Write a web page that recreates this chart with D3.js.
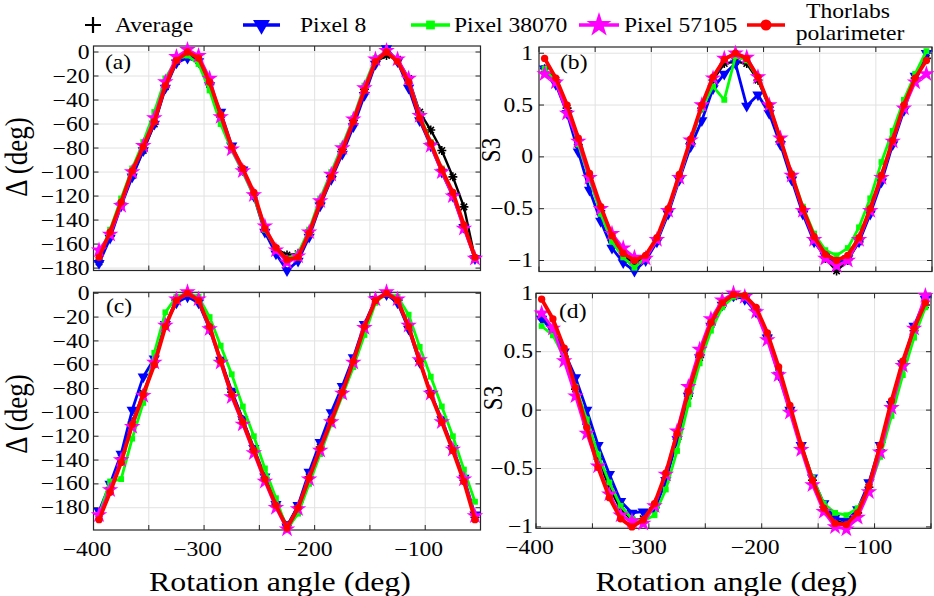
<!DOCTYPE html>
<html><head><meta charset="utf-8">
<script src="https://cdn.jsdelivr.net/npm/d3@7"></script>
<style>
body{margin:0;background:#fff;}
svg{display:block;}
</style>
</head><body>
<svg id="chart" width="934" height="596"></svg>
<script>
// ---------------- data ----------------
const angles = [-395,-385,-375,-365,-355,-345,-335,-325,-315,-305,-295,-285,-275,-265,-255,-245,-235,-225,-215,-205,-195,-185,-175,-165,-155,-145,-135,-125,-115,-105,-95,-85,-75,-65,-55];

const seriesNames = ["Average","Pixel 8","Pixel 38070","Pixel 57105","Thorlabs polarimeter"];

// (a) Delta, upper row
const aAverage = [-175,-153,-127,-103,-82,-60,-29,-8,-2,-7,-27,-54,-80,-99,-119,-148,-164,-169,-168,-150,-125,-103,-81,-57,-31,-8,-3,-6,-22,-50,-65,-82,-104,-129,-172];
const aPixel8 = [-176,-155,-128,-104,-82,-60,-30,-9,-5,-8,-28,-50,-78,-98,-120,-150,-168,-182,-174,-154,-128,-106,-85,-62,-36,-10,3,-8,-30,-57,-78,-100,-120,-146,-172];
const aPixel38070 = [-170,-148,-122,-97,-75,-50,-22,-6,-3,-10,-32,-60,-82,-100,-120,-148,-164,-172,-168,-148,-122,-100,-78,-55,-28,-5,0,-7,-24,-52,-75,-97,-118,-145,-172];
const aPixel57105 = [-165,-152,-128,-100,-78,-55,-25,-4,2,-3,-22,-54,-81,-99,-119,-145,-165,-175,-170,-150,-124,-102,-80,-56,-30,-6,1,-6,-22,-53,-78,-100,-120,-147,-172];
const aThorlabs = [-171,-150,-125,-99,-79,-58,-28,-7,0,-5,-25,-52,-79,-97,-117,-147,-163,-173,-171,-151,-126,-104,-82,-58,-32,-8,0,-8,-25,-55,-76,-98,-117,-144,-171];

// (b) S3, upper row
const bAverage = [0.85,0.74,0.47,0.12,-0.2,-0.52,-0.8,-0.96,-1.02,-0.97,-0.8,-0.52,-0.19,0.14,0.47,0.74,0.9,0.92,0.9,0.74,0.48,0.15,-0.2,-0.53,-0.8,-0.98,-1.1,-1.0,-0.82,-0.53,-0.22,0.14,0.48,0.76,0.95];
const bPixel8 = [0.85,0.7,0.42,0.05,-0.32,-0.62,-0.88,-1.02,-1.1,-1.0,-0.82,-0.55,-0.22,0.1,0.35,0.66,0.8,0.9,0.49,0.6,0.42,0.12,-0.22,-0.55,-0.82,-0.96,-1.03,-0.98,-0.82,-0.55,-0.24,0.12,0.45,0.78,1.0];
const bPixel38070 = [0.85,0.72,0.48,0.12,-0.22,-0.55,-0.82,-0.97,-1.07,-0.97,-0.8,-0.52,-0.2,0.15,0.47,0.68,0.55,0.97,0.93,0.76,0.5,0.16,-0.16,-0.48,-0.74,-0.9,-0.95,-0.88,-0.68,-0.4,-0.05,0.25,0.55,0.8,1.02];
const bPixel57105 = [0.8,0.72,0.42,0.15,-0.2,-0.5,-0.74,-0.88,-0.97,-0.98,-0.8,-0.52,-0.2,0.16,0.5,0.76,0.95,1.0,0.96,0.77,0.5,0.18,-0.18,-0.52,-0.8,-0.98,-1.05,-1.0,-0.8,-0.52,-0.2,0.15,0.47,0.72,0.8];
const bThorlabs = [0.95,0.76,0.5,0.18,-0.16,-0.48,-0.76,-0.93,-1.0,-0.95,-0.78,-0.5,-0.17,0.17,0.5,0.77,0.94,1.0,0.95,0.77,0.5,0.17,-0.17,-0.5,-0.77,-0.94,-1.0,-0.95,-0.78,-0.5,-0.18,0.16,0.5,0.76,0.93];

// (c) Delta, lower row
const cAverage = [-185,-163,-138,-108,-84,-58,-27,-5,-1,-6,-28,-56,-83,-106,-131,-155,-177,-195,-179,-154,-129,-106,-82,-57,-28,-5,-1,-6,-28,-57,-84,-107,-131,-157,-188];
const cPixel8 = [-183,-160,-135,-98,-70,-55,-26,-8,-3,-8,-30,-56,-82,-106,-130,-154,-177,-196,-178,-150,-125,-100,-78,-54,-26,-5,-1,-8,-30,-58,-84,-106,-130,-155,-186];
const cPixel38070 = [-186,-158,-156,-122,-92,-50,-16,-3,0,-3,-20,-44,-68,-95,-120,-147,-172,-198,-185,-160,-135,-110,-86,-62,-35,-8,0,-3,-18,-45,-70,-95,-120,-148,-175];
const cPixel57105 = [-186,-165,-140,-112,-86,-58,-27,-5,1,-5,-30,-58,-87,-110,-134,-158,-180,-198,-181,-156,-132,-108,-84,-58,-29,-5,1,-5,-27,-56,-84,-108,-131,-156,-187];
const cThorlabs = [-190,-167,-142,-110,-85,-60,-28,-6,0,-6,-28,-57,-85,-108,-132,-156,-178,-197,-180,-155,-130,-107,-83,-57,-28,-6,0,-6,-28,-57,-85,-108,-132,-158,-190];

// (d) S3, lower row
const dAverage = [0.8,0.69,0.46,0.18,-0.12,-0.42,-0.66,-0.85,-0.94,-0.93,-0.84,-0.6,-0.25,0.12,0.45,0.73,0.9,0.97,0.96,0.86,0.64,0.32,0.0,-0.32,-0.6,-0.83,-0.95,-0.97,-0.88,-0.66,-0.34,0.02,0.38,0.68,0.9];
const dPixel8 = [0.78,0.68,0.5,0.28,0.0,-0.3,-0.55,-0.78,-0.88,-0.87,-0.86,-0.6,-0.25,0.12,0.45,0.72,0.9,0.98,0.95,0.84,0.62,0.3,0.0,-0.3,-0.58,-0.8,-0.92,-0.95,-0.85,-0.62,-0.3,0.05,0.4,0.72,0.95];
const dPixel38070 = [0.72,0.64,0.45,0.2,-0.08,-0.38,-0.62,-0.82,-0.93,-0.95,-0.9,-0.68,-0.35,0.05,0.4,0.68,0.88,0.97,0.98,0.86,0.64,0.34,0.02,-0.3,-0.58,-0.8,-0.88,-0.9,-0.84,-0.68,-0.4,-0.05,0.3,0.62,0.88];
const dPixel57105 = [0.83,0.7,0.42,0.12,-0.2,-0.48,-0.72,-0.9,-0.95,-0.97,-0.82,-0.55,-0.18,0.2,0.52,0.78,0.94,1.0,0.97,0.84,0.6,0.3,-0.02,-0.34,-0.64,-0.87,-1.0,-1.02,-0.92,-0.7,-0.36,0.02,0.38,0.7,0.98];
const dThorlabs = [0.95,0.78,0.53,0.19,-0.15,-0.49,-0.75,-0.93,-1.0,-0.94,-0.8,-0.54,-0.2,0.16,0.47,0.75,0.92,0.99,0.98,0.88,0.66,0.37,0.04,-0.3,-0.6,-0.84,-0.97,-0.98,-0.88,-0.65,-0.3,0.08,0.42,0.7,0.92];

// ticks
const xGridTicks = [-400,-350,-300,-250,-200,-150,-100,-50];
const xTickLabels = [-400,-300,-200,-100];
const deltaTicks = [0,-20,-40,-60,-80,-100,-120,-140,-160,-180];
const s3Ticks = [1,0.5,0,-0.5,-1];
const panelLetters = ["(a)","(b)","(c)","(d)"];

// ---------------- drawing ----------------
const FONT = "Liberation Serif";
const svg = d3.select("#chart");
const SX = 1.18; // horizontal stretch of the original figure's text
const colors = ["#000000","#0000ff","#00ff00","#ff00ff","#ff0000"];
const widths = [2.4,2.8,2.8,2.8,3.8];

function stext(g, x, y, str, size, anchor){
  return g.append("text")
    .attr("transform", `translate(${x},${y}) scale(${SX},1)`)
    .attr("font-family", FONT)
    .attr("font-size", size)
    .attr("fill", "#000")
    .attr("text-anchor", anchor || "start")
    .text(str);
}
function fmt(v){ return String(v).replace("-", "\u2212"); }

function drawMarker(g, k, x, y, big){
  const s = big ? 1.5 : 1;
  if(k===0){
    if(big){
      g.append("path").attr("d", "M-8,0H8M0,-8V8")
        .attr("transform", `translate(${x},${y})`).attr("stroke", colors[0]).attr("stroke-width", 2.2);
    } else {
      g.append("path").attr("d", "M-4.5,0H4.5M0,-4.5V4.5M-3.2,-3.2L3.2,3.2M-3.2,3.2L3.2,-3.2")
        .attr("transform", `translate(${x},${y})`).attr("stroke", colors[0]).attr("stroke-width", 1.6);
    }
  } else if(k===1){
    g.append("path").attr("d", d3.symbol(d3.symbolTriangle, 55*s*s)())
      .attr("transform", `translate(${x},${y}) rotate(180)`).attr("fill", colors[1]);
  } else if(k===2){
    g.append("path").attr("d", d3.symbol(d3.symbolSquare, 34*s*s)())
      .attr("transform", `translate(${x},${y})`).attr("fill", colors[2]);
  } else if(k===3){
    g.append("path").attr("d", d3.symbol(d3.symbolStar, 85*s*s)())
      .attr("transform", `translate(${x},${y})`).attr("fill", colors[3]);
  } else {
    g.append("path").attr("d", d3.symbol(d3.symbolCircle, 42*s*s)())
      .attr("transform", `translate(${x},${y})`).attr("fill", colors[4]);
  }
}

const panels = [
  {x0:93.5, x1:480.5, y0:46,    y1:270.5, yd:[-182,5],        yt:deltaTicks, lab:0, labX:105, labY:69,
   series:[aAverage,aPixel8,aPixel38070,aPixel57105,aThorlabs], xlabels:false, ylab:"\u0394 (deg)", ylx:27, yly:157, ylsize:27, tickGap:4},
  {x0:539,  x1:932,   y0:47,    y1:271.5, yd:[-1.106,1.06],   yt:s3Ticks,    lab:1, labX:560, labY:69,
   series:[bAverage,bPixel8,bPixel38070,bPixel57105,bThorlabs], xlabels:false, ylab:"S3", ylx:500, yly:150, ylsize:23, tickGap:6},
  {x0:93.5, x1:480.5, y0:292.3, y1:530,   yd:[-198.7,0.8],    yt:deltaTicks, lab:2, labX:106, labY:313,
   series:[cAverage,cPixel8,cPixel38070,cPixel57105,cThorlabs], xlabels:true, ylab:"\u0394 (deg)", ylx:27, yly:414, ylsize:27, tickGap:4},
  {x0:536,  x1:931,   y0:293.3, y1:528.3, yd:[-1.012,1.0],    yt:s3Ticks,    lab:3, labX:559, labY:318,
   series:[dAverage,dPixel8,dPixel38070,dPixel57105,dThorlabs], xlabels:true, ylab:"S3", ylx:502, yly:398, ylsize:23, tickGap:3}
];

panels.forEach(p => {
  const x = d3.scaleLinear().domain([-400,-50]).range([p.x0,p.x1]);
  const y = d3.scaleLinear().domain(p.yd).range([p.y1,p.y0]);
  const g = svg.append("g");

  // grid
  g.selectAll(".gx").data(xGridTicks.filter(v => v>-400 && v<-50)).enter().append("line")
    .attr("x1", d=>x(d)).attr("x2", d=>x(d)).attr("y1", p.y0).attr("y2", p.y1)
    .attr("stroke", "#e2e2e2").attr("stroke-width", 1);
  g.selectAll(".gy").data(p.yt).enter().append("line")
    .attr("x1", p.x0).attr("x2", p.x1).attr("y1", d=>y(d)).attr("y2", d=>y(d))
    .attr("stroke", "#e2e2e2").attr("stroke-width", 1);

  // ticks (inside, both sides)
  const tk = 5;
  xGridTicks.forEach(v => {
    g.append("line").attr("x1", x(v)).attr("x2", x(v)).attr("y1", p.y1).attr("y2", p.y1-tk).attr("stroke","#262626");
    g.append("line").attr("x1", x(v)).attr("x2", x(v)).attr("y1", p.y0).attr("y2", p.y0+tk).attr("stroke","#262626");
  });
  p.yt.forEach(v => {
    g.append("line").attr("x1", p.x0).attr("x2", p.x0+tk).attr("y1", y(v)).attr("y2", y(v)).attr("stroke","#262626");
    g.append("line").attr("x1", p.x1).attr("x2", p.x1-tk).attr("y1", y(v)).attr("y2", y(v)).attr("stroke","#262626");
  });

  // box
  g.append("rect").attr("x", p.x0).attr("y", p.y0).attr("width", p.x1-p.x0).attr("height", p.y1-p.y0)
    .attr("fill","none").attr("stroke","#262626").attr("stroke-width",1.2);

  // y tick labels
  p.yt.forEach(v => {
    stext(g, p.x0 - p.tickGap, y(v), fmt(v), 20, "end").attr("dy","0.33em");
  });

  // x tick labels
  if(p.xlabels){
    xTickLabels.forEach(v => {
      stext(g, x(v) - 6.5, p.y1 + 26, fmt(v), 20, "middle");
    });
    stext(g, (p.x0+p.x1)/2 - 7, 591, "Rotation angle (deg)", 27, "middle");
  }

  // y label
  g.append("text")
    .attr("transform", `translate(${p.ylx},${p.yly}) rotate(-90) scale(1,${SX})`)
    .attr("font-family", FONT).attr("fill","#000")
    .attr("font-size", p.ylsize).attr("text-anchor","middle").text(p.ylab);

  // series
  const line = d3.line().x((d,i)=>x(angles[i])).y(d=>y(d));
  p.series.forEach((vals, k) => {
    const sg = g.append("g");
    sg.append("path").datum(vals).attr("d", line)
      .attr("fill","none").attr("stroke", colors[k]).attr("stroke-width", widths[k])
      .attr("stroke-linejoin","round");
    vals.forEach((v,i) => drawMarker(sg, k, x(angles[i]), y(v), false));
  });

  // panel letter
  stext(g, p.labX, p.labY, panelLetters[p.lab], 20, "start");
});

// ---------------- legend ----------------
const lg = svg.append("g");
drawMarker(lg, 0, 93, 25, true);
stext(lg, 115, 32, seriesNames[0], 20, "start");
const legItems = [
  {k:1, x1:243, x2:280, tx:300},
  {k:2, x1:411, x2:450, tx:454},
  {k:3, x1:579, x2:619, tx:624},
  {k:4, x1:747, x2:785, tx:null}
];
legItems.forEach(it => {
  lg.append("line").attr("x1", it.x1).attr("x2", it.x2).attr("y1", 25).attr("y2", 25)
    .attr("stroke", colors[it.k]).attr("stroke-width", 3.5);
  drawMarker(lg, it.k, (it.x1+it.x2)/2, 25, true);
  if(it.tx !== null) stext(lg, it.tx, 32, seriesNames[it.k], 20, "start");
});
stext(lg, 848, 18, "Thorlabs", 20, "middle");
stext(lg, 850, 40, "polarimeter", 20, "middle");
</script>
</body></html>
